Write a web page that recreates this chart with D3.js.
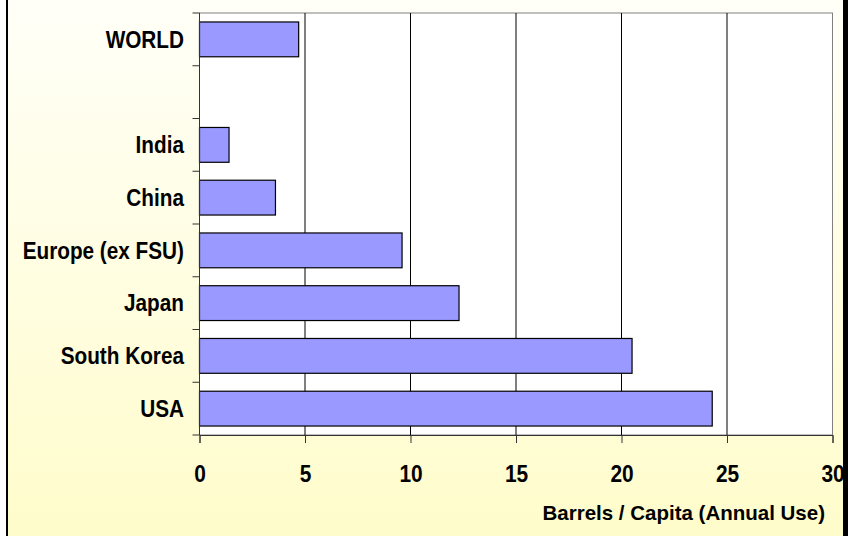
<!DOCTYPE html>
<html>
<head>
<meta charset="utf-8">
<script src="https://cdn.jsdelivr.net/npm/d3@7"></script>
<style>
  html, body { margin: 0; padding: 0; background: #fff; }
  svg { display: block; }
  text { font-family: "Liberation Sans", Arial, sans-serif; font-weight: bold; fill: #000; }
</style>
</head>
<body>
<svg id="chart" width="848" height="536"></svg>
<script>
// Oil consumption per person, barrels per year
const categories = ["WORLD", "", "India", "China", "Europe (ex FSU)", "Japan", "South Korea", "USA"];
const values     = [4.7, null, 1.4, 3.6, 9.6, 12.3, 20.5, 24.3];
const xTicks     = [0, 5, 10, 15, 20, 25, 30];
const axisTitle  = "Barrels / Capita (Annual Use)";

const W = 848, H = 536;
const plot = { left: 199.5, right: 832.5, top: 13, bottom: 435 };

const svg = d3.select("#chart");

// pale yellow backdrop
const defs = svg.append("defs");
const grad = defs.append("linearGradient").attr("id", "bg")
  .attr("x1", 0).attr("y1", 0).attr("x2", 0).attr("y2", 1);
grad.append("stop").attr("offset", "0%").attr("stop-color", "#fffff8");
grad.append("stop").attr("offset", "100%").attr("stop-color", "#fffccb");
svg.append("rect").attr("x", 8).attr("y", 0).attr("width", W - 8).attr("height", H).attr("fill", "url(#bg)");

const x = d3.scaleLinear().domain([0, 30]).range([plot.left, plot.right]);
const keys = categories.map((c, i) => i);
const y = d3.scaleBand().domain(keys).range([plot.top, plot.bottom])
  .paddingInner(0.34).paddingOuter(0.17);

// plot area
svg.append("rect")
  .attr("x", plot.left).attr("y", plot.top)
  .attr("width", plot.right - plot.left).attr("height", plot.bottom - plot.top)
  .attr("fill", "#fff").attr("stroke", "#808080").attr("stroke-width", 1);

// vertical gridlines
svg.append("g").selectAll("line")
  .data(xTicks.filter(t => t > 0 && t < 30))
  .join("line")
  .attr("x1", d => x(d)).attr("x2", d => x(d))
  .attr("y1", plot.top).attr("y2", plot.bottom)
  .attr("stroke", "#000").attr("stroke-width", 1);

// bars
svg.append("g").selectAll("rect")
  .data(keys.filter(k => values[k] != null))
  .join("rect")
  .attr("x", x(0))
  .attr("y", k => y(k))
  .attr("width", k => x(values[k]) - x(0))
  .attr("height", y.bandwidth())
  .attr("fill", "#9999ff")
  .attr("stroke", "#000").attr("stroke-width", 1.2);

// x axis
const xAxis = d3.axisBottom(x).tickValues(xTicks).tickSize(8);
const gx = svg.append("g").attr("transform", `translate(0,${plot.bottom})`).call(xAxis);
gx.select(".domain").attr("stroke", "#333");
gx.selectAll(".tick line").attr("stroke", "#333");
gx.selectAll(".tick text")
  .attr("font-size", 24).attr("fill", "#000")
  .attr("font-family", "Liberation Sans, Arial, sans-serif")
  .attr("font-weight", "bold")
  .attr("dy", null).attr("y", 47).attr("x", 0)
  .attr("transform", "scale(0.87,1)");

// y axis: ticks sit on category boundaries
const step = y.step();
const y0 = plot.top;
const gy = svg.append("g");
gy.append("line")
  .attr("x1", x(0)).attr("x2", x(0)).attr("y1", plot.top).attr("y2", plot.bottom)
  .attr("stroke", "#333");
gy.selectAll("line.tk")
  .data(d3.range(categories.length + 1))
  .join("line").attr("class", "tk")
  .attr("x1", x(0) - 7).attr("x2", x(0))
  .attr("y1", i => y0 + i * step).attr("y2", i => y0 + i * step)
  .attr("stroke", "#333");

// category labels
svg.append("g").selectAll("g")
  .data(keys)
  .join("g")
  .attr("transform", k => `translate(184,${y(k) + y.bandwidth() / 2 + 8.3}) scale(0.865,1)`)
  .append("text")
  .attr("text-anchor", "end")
  .attr("font-size", 24)
  .text(k => categories[k]);

// axis title
svg.append("text")
  .attr("x", 825).attr("y", 519.5)
  .attr("text-anchor", "end")
  .attr("font-size", 20.5)
  .text(axisTitle);

// frame edges
svg.append("rect").attr("x", 6).attr("y", 0).attr("width", 2).attr("height", H).attr("fill", "#000");
svg.append("rect").attr("x", 843).attr("y", 0).attr("width", 5).attr("height", H).attr("fill", "#000");
</script>
</body>
</html>
